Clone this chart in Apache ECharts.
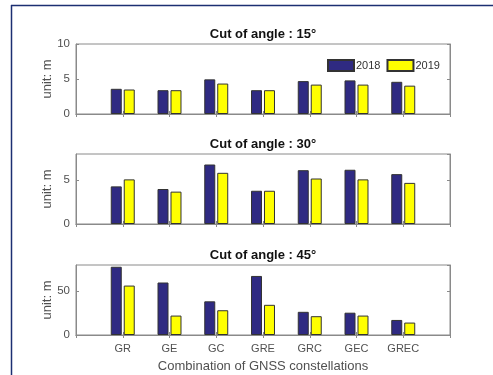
<!DOCTYPE html>
<html>
<head>
<meta charset="utf-8">
<script src="https://cdn.jsdelivr.net/npm/echarts@6/dist/echarts.min.js"></script>
<style>
  html, body { margin: 0; padding: 0; background: #fff; overflow: hidden; }
  #chart { width: 493px; height: 375px; }
</style>
</head>
<body>
<div id="chart"></div>
<script>
// GNSS constellation combinations (padded so the x range runs 0..8)
const categories = ['', 'GR', 'GE', 'GC', 'GRE', 'GRC', 'GEC', 'GREC', ''];
const years = ['2018', '2019'];

// Cut-off angle 15°
const cut15_2018 = [3.6, 3.4, 4.95, 3.4, 4.7, 4.8, 4.6];
const cut15_2019 = [3.5, 3.4, 4.35, 3.4, 4.2, 4.2, 4.05];
// Cut-off angle 30°
const cut30_2018 = [4.3, 4.0, 6.8, 3.8, 6.15, 6.2, 5.7];
const cut30_2019 = [5.1, 3.7, 5.85, 3.8, 5.2, 5.1, 4.7];
// Cut-off angle 45°
const cut45_2018 = [78, 60, 38.5, 67.5, 26.5, 25.5, 17.2];
const cut45_2019 = [56.5, 22.2, 28.3, 34.5, 21.5, 22.2, 14.2];

const panelTitles = ['Cut of angle : 15°', 'Cut of angle : 30°', 'Cut of angle : 45°'];
const yMax = [10, 8, 80];
const yInterval = [5, 5, 50];
const yTickValues = [[0, 5, 10], [0, 5], [0, 50]];

const panels = [
  [cut15_2018, cut15_2019],
  [cut30_2018, cut30_2019],
  [cut45_2018, cut45_2019]
];

const FONT = '"Liberation Sans", Arial, Helvetica, sans-serif';
const BOX = '#8a8a8a';
const LABEL = '#505050';
const colors = ['#2f2a82', '#ffff00'];

const gridTops = [44, 154, 265];
const gridH = 70;
const gridLeft = 76, gridRight = 43;

const pad = arr => ['-', ...arr, '-'];

const grid = [], xAxis = [], yAxis = [], series = [], graphic = [];

panels.forEach((vals, i) => {
  grid.push({
    left: gridLeft, right: gridRight, top: gridTops[i], height: gridH,
    show: true, borderColor: BOX, borderWidth: 1, backgroundColor: '#fff'
  });
  const xBase = {
    type: 'category', data: categories, boundaryGap: false, gridIndex: i,
    axisLine: { show: true, lineStyle: { color: BOX } },
    axisTick: { show: true, inside: true, length: 3, lineStyle: { color: BOX } },
    splitLine: { show: false }
  };
  xAxis.push(Object.assign({}, xBase, {
    position: 'bottom',
    axisLabel: {
      show: i === 2, color: LABEL, fontFamily: FONT, fontSize: 11, margin: 8,
      interval: 0
    }
  }));
  xAxis.push(Object.assign({}, xBase, {
    position: 'top', axisLabel: { show: false }
  }));
  const ticks = yTickValues[i];
  const yBase = {
    type: 'value', gridIndex: i, min: 0, max: yMax[i], interval: yInterval[i],
    axisLine: { show: true, lineStyle: { color: BOX } },
    axisTick: { show: true, inside: true, length: 3, lineStyle: { color: BOX } },
    splitLine: { show: false }
  };
  yAxis.push(Object.assign({}, yBase, {
    position: 'left',
    axisLabel: {
      color: LABEL, fontFamily: FONT, fontSize: 11.5, margin: 6,
      showMaxLabel: ticks.includes(yMax[i]),
      formatter: v => (ticks.includes(v) ? String(v) : '')
    }
  }));
  yAxis.push(Object.assign({}, yBase, {
    position: 'right', axisLabel: { show: false }
  }));

  vals.forEach((arr, k) => {
    series.push({
      name: years[k], type: 'bar',
      xAxisIndex: i * 2, yAxisIndex: i * 2,
      data: pad(arr),
      barWidth: 11, barGap: '18%',
      itemStyle: { color: colors[k], borderColor: '#333', borderWidth: 1 }
    });
  });

  // panel title
  graphic.push({
    type: 'text', x: 263, y: gridTops[i] - 10,
    style: {
      text: panelTitles[i], align: 'center', verticalAlign: 'middle',
      font: 'bold 13px ' + FONT, fill: '#111'
    }
  });
  // y-axis name, rotated
  graphic.push({
    type: 'text', x: 47, y: gridTops[i] + gridH / 2, rotation: Math.PI / 2,
    style: {
      text: 'unit: m', align: 'center', verticalAlign: 'middle',
      font: '13px ' + FONT, fill: LABEL
    }
  });
});

graphic.push({
  type: 'text', x: 263, y: 366,
  style: {
    text: 'Combination of GNSS constellations', align: 'center', verticalAlign: 'middle',
    font: '13px ' + FONT, fill: LABEL
  }
});
// page frame
graphic.push({ type: 'line', shape: { x1: 11, y1: 5.5, x2: 500, y2: 5.5 }, style: { stroke: '#1c2f72', lineWidth: 1.5 } });
graphic.push({ type: 'line', shape: { x1: 11.5, y1: 5, x2: 11.5, y2: 380 }, style: { stroke: '#1c2f72', lineWidth: 1.5 } });

const chart = echarts.init(document.getElementById('chart'), null, { renderer: 'canvas' });
chart.setOption({
  animation: false,
  backgroundColor: '#fff',
  grid, xAxis, yAxis, series, graphic,
  legend: {
    data: years, left: 327, top: 59,
    itemWidth: 26, itemHeight: 11, itemGap: 6,
    icon: 'rect',
    textStyle: { color: '#333', fontFamily: FONT, fontSize: 11, padding: [0, 0, 0, -3] },
    padding: 0
  }
});
</script>
</body>
</html>
